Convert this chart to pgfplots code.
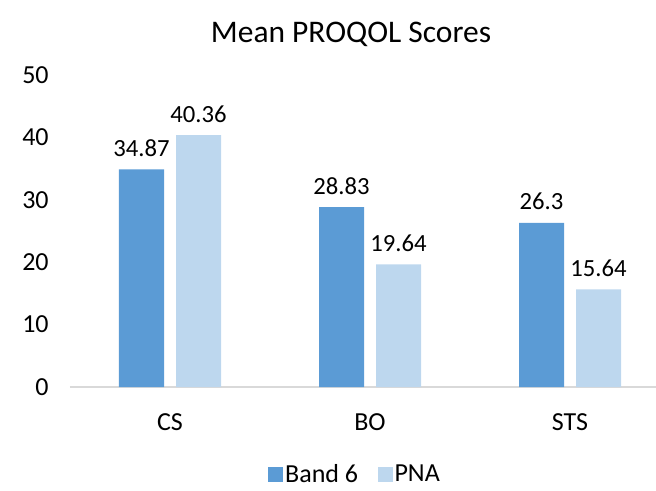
\documentclass[border=0pt]{standalone}
\usepackage{pgfplots}
\pgfplotsset{compat=1.18}
\usepackage{fontspec}
\setmainfont{Carlito}
\definecolor{bandsix}{HTML}{5B9BD5}
\definecolor{pna}{HTML}{BDD7EE}
\definecolor{axgray}{HTML}{D9D9D9}
\begin{document}
\begin{tikzpicture}[x=0.75pt,y=0.75pt]
\path[use as bounding box] (-70,-103) rectangle (586,387);
\begin{axis}[
  at={(0,0)}, anchor=south west,
  scale only axis,
  width=450pt, height=234pt,
  xmin=-0.5, xmax=2.5, ymin=0, ymax=50,
  ybar=9pt, bar width=33.75pt,
  xtick=data, xticklabels={CS,BO,STS},
  ytick={0,10,20,30,40,50},
  axis x line*=bottom, axis y line*=left,
  x axis line style={draw=axgray, line width=1.2pt, -},
  y axis line style={draw=none},
  xtick style={draw=none}, ytick style={draw=none},
  /pgf/number format/assume math mode=true,
  tick label style={font=\fontsize{19.5}{23}\selectfont},
  yticklabel style={xshift=-12.5pt},
  xticklabel style={yshift=-12pt},
  nodes near coords,
  nodes near coords style={font=\fontsize{18.5}{22}\selectfont, black, yshift=6pt},
  point meta=explicit symbolic,
  legend style={at={(0.475,-0.28)}, anchor=center, draw=none, legend columns=2,
    font=\fontsize{19.5}{23}\selectfont, inner sep=0pt,
    /tikz/every even column/.append style={column sep=13pt},
    nodes={inner sep=1.5pt}},
  legend image code/.code={\fill[#1] (0pt,-5.6pt) rectangle (11.25pt,5.6pt);},
  clip=false,
]
\addplot[fill=bandsix, draw=none] coordinates {(0,34.87)[34.87] (1,28.83)[28.83] (2,26.3)[26.3]};
\addplot[fill=pna, draw=none] coordinates {(0,40.36)[40.36] (1,19.64)[19.64] (2,15.64)[15.64]};
\legend{Band 6, PNA}
\end{axis}
\node[font=\fontsize{23.6}{28}\selectfont] at (281,353) {Mean PROQOL Scores};
\end{tikzpicture}
\end{document}
